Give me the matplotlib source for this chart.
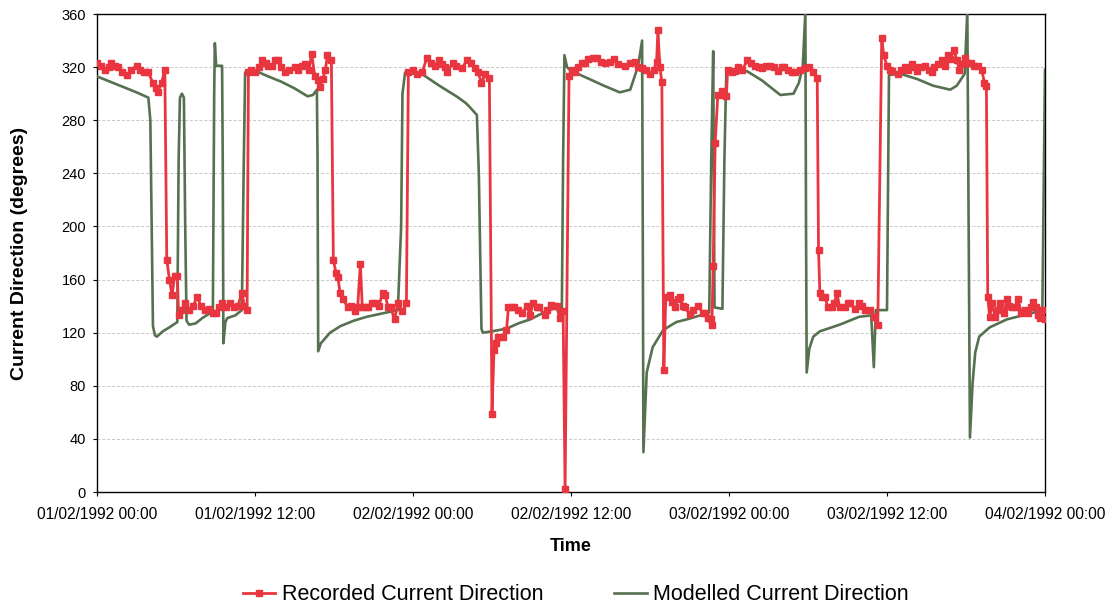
import matplotlib
matplotlib.use("Agg")
import matplotlib.pyplot as plt

plt.rcParams['font.family'] = ['Liberation Sans', 'DejaVu Sans']

# Hours after 01/02/1992 00:00 and direction in degrees
rec_hours = [
    0.0, 0.3, 0.6, 0.9, 1.1, 1.4, 1.6, 1.9, 2.3, 2.6, 3.0, 3.3, 3.6, 3.9, 4.25, 4.45, 4.6, 4.9, 5.15,
    5.3, 5.5, 5.7, 5.9, 6.1, 6.2, 6.4, 6.7, 7.0, 7.3, 7.6, 7.9, 8.2, 8.5, 8.8, 9.0, 9.3, 9.5, 9.8,
    10.1, 10.4, 10.7, 11.0, 11.2, 11.4, 11.5, 11.7, 12.0, 12.3, 12.5, 12.8, 13.0, 13.3, 13.5, 13.75,
    14.0, 14.3, 14.6, 15.0, 15.3, 15.6, 15.8, 16.1, 16.3, 16.55, 16.75, 16.9, 17.15, 17.35, 17.5, 17.8,
    17.95, 18.15, 18.3, 18.45, 18.7, 19.05, 19.3, 19.6, 19.8, 20.0, 20.15, 20.4, 20.6, 20.9, 21.1,
    21.4, 21.7, 21.9, 22.1, 22.3, 22.6, 22.85, 23.2, 23.5, 23.65, 24.0, 24.3, 24.7, 25.05, 25.4, 25.7,
    26.0, 26.2, 26.4, 26.6, 27.0, 27.3, 27.7, 28.1, 28.4, 28.7, 28.95, 29.2, 29.5, 29.8, 30.0, 30.15,
    30.3, 30.45, 30.8, 31.1, 31.25, 31.5, 31.7, 32.0, 32.3, 32.65, 32.9, 33.1, 33.4, 33.6, 34.0, 34.2,
    34.5, 34.7, 34.9, 35.15, 35.4, 35.55, 35.85, 36.05, 36.3, 36.5, 36.8, 37.05, 37.3, 37.7, 38.0,
    38.3, 38.6, 38.95, 39.3, 39.6, 40.1, 40.5, 40.85, 41.1, 41.4, 41.7, 42.0, 42.3, 42.5, 42.6, 42.75,
    42.9, 43.05, 43.2, 43.5, 43.7, 43.9, 44.1, 44.3, 44.5, 44.65, 45.0, 45.3, 45.65, 46.0, 46.2, 46.4,
    46.6, 46.7, 46.8, 46.95, 47.15, 47.45, 47.65, 47.8, 47.9, 48.2, 48.45, 48.7, 49.0, 49.4, 49.7,
    50.0, 50.3, 50.5, 50.8, 51.1, 51.4, 51.7, 52.0, 52.2, 52.5, 52.8, 53.0, 53.4, 53.75, 54.1, 54.4,
    54.7, 54.8, 54.9, 55.1, 55.3, 55.5, 55.8, 56.0, 56.2, 56.4, 56.8, 57.0, 57.2, 57.55, 57.9, 58.1,
    58.3, 58.7, 59.0, 59.3, 59.6, 59.75, 60.0, 60.2, 60.4, 60.8, 61.1, 61.35, 61.6, 61.9, 62.1, 62.3,
    62.6, 62.9, 63.2, 63.4, 63.6, 63.9, 64.2, 64.4, 64.6, 64.8, 65.1, 65.3, 65.5, 65.7, 65.9, 66.1,
    66.4, 66.6, 66.9, 67.2, 67.4, 67.55, 67.65, 67.8, 68.0, 68.2, 68.4, 68.6, 68.9, 69.1, 69.3, 69.5,
    69.7, 69.95, 70.2, 70.45, 70.7, 70.9, 71.1, 71.3, 71.45, 71.6, 71.8, 72.0,
]
rec_deg = [
    323, 321, 318, 320, 323, 321, 320, 316, 314, 318, 321, 318, 316, 316, 308, 304, 301, 308, 318,
    175, 160, 148, 163, 163, 133, 137, 142, 137, 140, 147, 140, 137, 138, 135, 135, 139, 142, 139,
    142, 139, 140, 150, 140, 137, 316, 318, 316, 320, 325, 323, 321, 321, 325, 325,
    320, 316, 318, 320, 318, 321, 322, 318, 330, 313, 310, 305, 311, 318, 329, 325,
    175, 165, 162, 150, 145, 139, 140, 136, 139, 172, 139, 139, 139, 142, 142,
    140, 150, 148, 139, 139, 130, 142, 136, 142, 316, 318, 315, 316, 327, 323, 321,
    325, 322, 320, 316, 323, 321, 319, 325, 323, 319, 316, 308, 315, 312, 59, 107,
    112, 117, 117, 122, 139, 139, 139, 137, 135, 140, 133, 142, 139, 139, 133, 137,
    141, 140, 140, 131, 136, 2, 313, 318, 316, 320, 323, 323, 326, 327, 327,
    324, 323, 324, 326, 322, 321, 323, 324, 320, 319, 318, 315, 318, 324, 348, 320,
    309, 92, 147, 148, 143, 139, 145, 147, 140, 139, 134, 137, 140, 135, 135, 131,
    130, 126, 170, 263, 299, 302, 299, 298, 318, 316, 317, 320, 318, 325, 323,
    321, 320, 319, 321, 321, 320, 317, 320, 320, 318, 316, 316, 318, 319, 320, 316,
    312, 182, 150, 147, 147, 139, 139, 142, 150, 139, 139, 142, 142, 138, 142, 140,
    137, 137, 132, 126, 342, 329, 321, 318, 317, 315, 318, 320, 318, 322, 320, 317,
    320, 321, 318, 316, 320, 322, 325, 321, 329, 326, 333, 325, 318, 322, 327, 323,
    323, 321, 321, 318, 308, 306, 147, 132, 142, 132, 137, 142, 135, 145, 140, 139,
    139, 145, 135, 137, 135, 139, 143, 139, 133, 131, 137, 130,
]

mod_hours = [
    0.0, 1.0, 2.0, 3.0, 3.9, 4.05, 4.25, 4.4, 4.55, 5.0, 5.5, 6.1, 6.2, 6.3, 6.45, 6.6, 6.7, 6.8,
    7.0, 7.5, 8.0, 8.8, 8.9, 8.95, 9.05, 9.5, 9.55, 9.6, 9.75, 9.9, 10.5, 11.0, 11.15, 11.25, 11.85,
    13.0, 14.0, 15.0, 16.0, 16.4, 16.7, 16.75, 16.8, 17.0, 17.7, 18.5, 19.5, 20.5, 21.9, 22.85, 23.1,
    23.2, 23.4, 24.8, 26.0, 27.3, 28.0, 28.3, 28.85, 29.0, 29.2, 29.3, 30.0, 31.1, 32.0, 32.9, 33.9,
    34.9, 35.3, 35.4, 35.5, 35.7, 35.9, 36.5, 37.4, 38.5, 39.7, 40.5, 41.1, 41.4, 41.45, 41.5, 41.75,
    42.2, 43.0, 44.0, 44.8, 46.5, 46.65, 46.8, 46.9, 47.5, 47.65, 47.8, 49.35, 50.5, 51.9, 52.9, 53.3,
    53.6, 53.8, 53.85, 53.9, 54.1, 54.4, 54.9, 56.4, 57.9, 58.8, 59.0, 59.15, 60.0, 60.15, 61.0, 62.3,
    63.5, 64.8, 65.3, 65.9, 66.1, 66.2, 66.3, 66.5, 66.7, 67.0, 67.8, 69.1, 71.1, 71.8, 72.0,
]
mod_deg = [
    313, 309, 305, 301, 297, 280, 125, 118, 117, 121, 124, 128, 250, 297, 300, 297, 200, 129,
    126, 127, 131, 136, 300, 338, 321, 321, 250, 112, 128, 131, 133, 137, 250, 316, 318,
    313, 309, 304, 298, 299, 303, 250, 106, 112, 120, 125, 129, 132, 135, 137, 200,
    300, 316, 314, 306, 298, 293, 290, 284, 240, 123, 120, 121, 123, 127, 130, 135,
    139, 133, 250, 329, 320, 318, 315, 311, 306, 301, 303, 321, 340, 200, 30, 90,
    109, 122, 128, 130, 135, 250, 332, 139, 138, 250, 318, 317, 310, 299, 300, 308,
    320, 362, 200, 90, 108, 117, 121, 126, 132, 133, 94, 137, 137, 314, 315, 311,
    306, 303, 306, 315, 362, 200, 41, 82, 105, 117, 124, 130, 135, 137, 318,
]

xtick_hours = [0, 12, 24, 36, 48, 60, 72]
xtick_labels = ["01/02/1992 00:00", "01/02/1992 12:00", "02/02/1992 00:00", "02/02/1992 12:00",
                "03/02/1992 00:00", "03/02/1992 12:00", "04/02/1992 00:00"]
ytick_vals = [0, 40, 80, 120, 160, 200, 240, 280, 320, 360]

fig = plt.figure(figsize=(11.14, 6.10), dpi=100)
ax = fig.add_axes([97 / 1114, 1 - 492 / 610, (1045 - 97) / 1114, (492 - 14) / 610])

ax.plot(mod_hours, mod_deg, color='#56714f', lw=1.9, label='Modelled Current Direction', zorder=3)
ax.plot(rec_hours, rec_deg, color='#e8353f', lw=2.0, marker='s', markersize=4.3,
        markeredgecolor='#e8353f', markerfacecolor='#e8353f',
        label='Recorded Current Direction', zorder=4)

ax.set_xlim(0, 72)
ax.set_ylim(0, 360)
ax.set_xticks(xtick_hours)
ax.set_xticklabels(xtick_labels, fontsize=11.2)
ax.set_yticks(ytick_vals)
ax.tick_params(axis='y', labelsize=10.5, length=3, pad=5)
ax.tick_params(axis='x', length=3, pad=8)

ax.grid(axis='y', color='#c8c8c8', lw=0.7, linestyle=(0, (3, 2)))
ax.set_axisbelow(True)
for s in ax.spines.values():
    s.set_color('black')
    s.set_linewidth(1.0)

ax.set_xlabel('Time', fontsize=13, fontweight='bold', labelpad=11)
ax.set_ylabel('Current Direction (degrees)', fontsize=14, fontweight='bold', labelpad=24)

h, l = ax.get_legend_handles_labels()
fig.legend([h[1], h[0]], [l[1], l[0]], loc='center', bbox_to_anchor=(576 / 1114, 1 - 595 / 610),
           ncol=2, frameon=False, fontsize=15.5, handlelength=1.5, handletextpad=0.3,
           columnspacing=3.3)

fig.savefig('out.png', dpi=100)
